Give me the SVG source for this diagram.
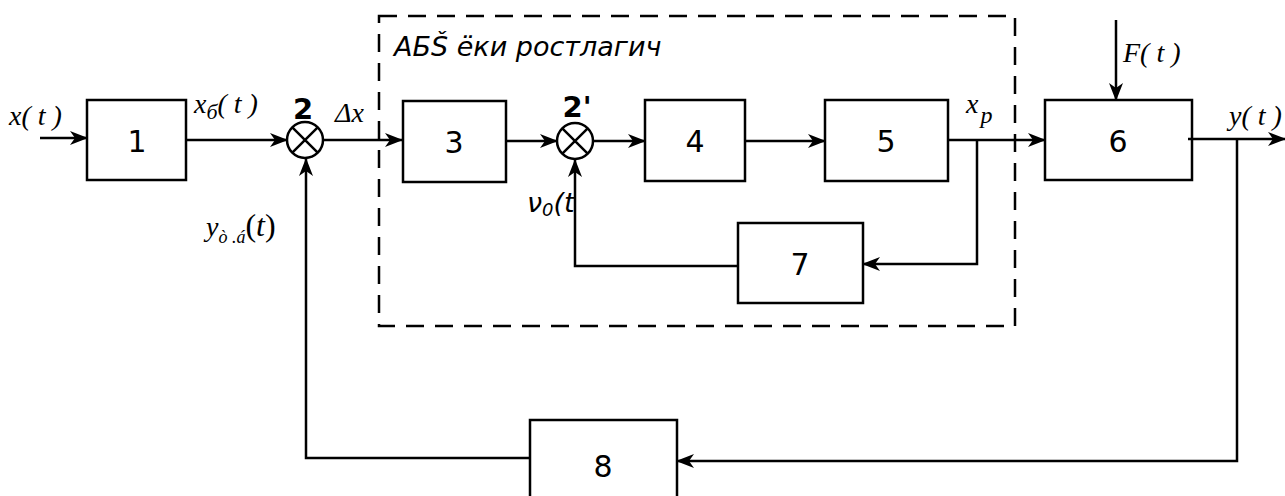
<svg xmlns="http://www.w3.org/2000/svg" width="1285" height="496" viewBox="0 0 1285 496">
<style>
.box{fill:none;stroke:#000;stroke-width:2.5}
.ln{fill:none;stroke:#000;stroke-width:2.5}
.num{font-family:"DejaVu Sans",sans-serif;font-size:30px;text-anchor:middle;dominant-baseline:central}
.lab{font-family:"Liberation Serif",serif;font-style:italic;font-size:28px}
.bold{font-family:"DejaVu Sans",sans-serif;font-weight:bold;font-size:29px;text-anchor:middle}
</style>
<defs>
<marker id="ar" markerWidth="18" markerHeight="14" refX="17" refY="7" orient="auto" markerUnits="userSpaceOnUse">
<path d="M0,0 L18,7 L0,14 L5,7 Z" fill="#000"/>
</marker>
</defs>
<rect x="0" y="0" width="1285" height="496" fill="#fff"/>
<g id="connectors">
<line class="ln" x1="40" y1="138" x2="87" y2="138" marker-end="url(#ar)"/>
<line class="ln" x1="186" y1="140" x2="287" y2="140" marker-end="url(#ar)"/>
<line class="ln" x1="324" y1="140" x2="402" y2="140" marker-end="url(#ar)"/>
<line class="ln" x1="506" y1="141" x2="557" y2="141" marker-end="url(#ar)"/>
<line class="ln" x1="593" y1="141" x2="645" y2="141" marker-end="url(#ar)"/>
<line class="ln" x1="745" y1="141" x2="825" y2="141" marker-end="url(#ar)"/>
<line class="ln" x1="948" y1="140" x2="1045" y2="140" marker-end="url(#ar)"/>
<polyline class="ln" points="977,140 977,264 863,264" marker-end="url(#ar)"/>
<polyline class="ln" points="738,266 575,266 575,160" marker-end="url(#ar)"/>
<line class="ln" x1="1116" y1="20" x2="1116" y2="100" marker-end="url(#ar)"/>
<line class="ln" x1="1188" y1="139" x2="1285" y2="139" marker-end="url(#ar)"/>
<polyline class="ln" points="1237,139 1237,461 677,461" marker-end="url(#ar)"/>
<polyline class="ln" points="530,458 306,458 306,159" marker-end="url(#ar)"/>
</g>
<g id="controller">
<rect x="379" y="16" width="636" height="310" fill="none" stroke="#000" stroke-width="2.5" stroke-dasharray="18,11"/>
<text x="394" y="56" font-family="DejaVu Sans,sans-serif" font-style="italic" font-size="27">АБŠ ёки ростлагич</text>
</g>
<g id="n1"><rect class="box" x="87" y="100" width="99" height="80"/><text class="num" x="137" y="141">1</text></g>
<g id="s2"><circle class="box" cx="305" cy="140" r="18"/><path class="ln" d="M292.3,127.3 L317.7,152.7 M317.7,127.3 L292.3,152.7"/><text class="bold" x="303" y="119">2</text></g>
<g id="n3"><rect class="box" x="403" y="101" width="103" height="81"/><text class="num" x="454" y="142">3</text></g>
<g id="s2p"><circle class="box" cx="575" cy="141" r="18"/><path class="ln" d="M562.3,128.3 L587.7,153.7 M587.7,128.3 L562.3,153.7"/><text class="bold" x="577" y="117">2'</text></g>
<g id="n4"><rect class="box" x="645" y="100" width="100" height="81"/><text class="num" x="695" y="141">4</text></g>
<g id="n5"><rect class="box" x="825" y="100" width="123" height="81"/><text class="num" x="886" y="141">5</text></g>
<g id="n6"><rect class="box" x="1045" y="100" width="147" height="80"/><text class="num" x="1118" y="141">6</text></g>
<g id="n7"><rect class="box" x="738" y="223" width="125" height="80"/><text class="num" x="800" y="264">7</text></g>
<g id="n8"><rect class="box" x="530" y="420" width="147" height="90"/><text class="num" x="603" y="466">8</text></g>
<g id="labels">
<text class="lab" x="9" y="125" font-size="27">x( t )</text>
<text class="lab" x="194" y="113" font-size="30">x<tspan font-size="22" dy="6">б</tspan><tspan dy="-6">( t )</tspan></text>
<text class="lab" x="335" y="122">Δx</text>
<text x="527" y="212" font-family="DejaVu Sans,sans-serif" font-style="italic" font-size="27">ν<tspan font-size="18" dy="4">0</tspan><tspan dy="-4">(t</tspan></text>
<text class="lab" x="966" y="113" font-size="32">x<tspan font-size="24" dx="2" dy="10">p</tspan></text>
<text class="lab" x="1123" y="62" font-size="34">F( t )</text>
<text class="lab" x="1229" y="125" font-size="30">y( t )</text>
<text class="lab" x="206" y="236" font-size="32">y<tspan font-size="18" dy="7">ò .á</tspan><tspan dy="-7" font-style="normal" font-size="32">(</tspan><tspan font-size="32">t</tspan><tspan font-style="normal" font-size="32">)</tspan></text>
</g>
</svg>
